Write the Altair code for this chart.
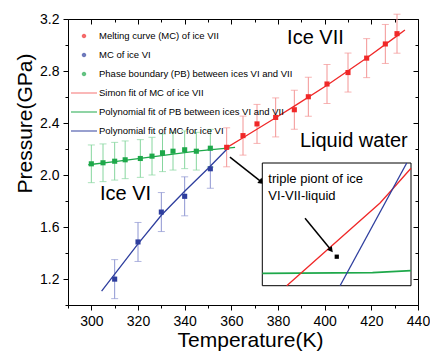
import altair as alt
import pandas as pd

FONT = "Liberation Sans"
RED = "#f02828"
BLUE = "#2e3e9e"
GREEN = "#1ea84a"
RED_L = "#f39494"
BLUE_L = "#8e96d2"
GREEN_L = "#86d69e"

# ---------------- data ----------------
red_T = [358, 365, 371, 379, 387, 393, 401, 410, 418, 426, 431]
red_P = [2.213, 2.303, 2.393, 2.443, 2.502, 2.602, 2.700, 2.788, 2.899, 3.008, 3.087]
red_err = 0.15

blue_T = [310, 320, 330, 340, 351]
blue_P = [1.199, 1.485, 1.715, 1.836, 2.048]
blue_err = 0.15

green_T = [300, 305, 310, 314.5, 321, 326, 330.5, 335, 340, 345, 351]
green_P = [2.086, 2.094, 2.106, 2.117, 2.127, 2.145, 2.171, 2.183, 2.194, 2.183, 2.206]
green_err = 0.145

simon_T = [357.5, 365, 379, 387, 401, 418, 431, 434.4]
simon_P = [2.205, 2.287, 2.44, 2.53, 2.69, 2.90, 3.07, 3.115]

polyPB_T = [298.7, 310, 326, 345, 361.6]
polyPB_P = [2.079, 2.103, 2.14, 2.183, 2.213]

polyVI_T = [304.4, 320, 330, 340, 350, 358.7]
polyVI_P = [1.107, 1.47, 1.69, 1.875, 2.05, 2.21]

# inset (zoom near the triple point)
inset_x_domain = [357.23, 359.213]
inset_y_domain = [2.20603, 2.2183]
inset_red_T = [357.556, 358.8, 358.956, 359.213]
inset_red_P = [2.20603, 2.2143, 2.2156, 2.21777]
inset_blue_T = [358.267, 359.156]
inset_blue_P = [2.20603, 2.2183]
inset_green_T = [357.23, 358.7, 359.213]
inset_green_P = [2.20727, 2.20733, 2.20753]
triple_T = [358.223]
triple_P = [2.20893]

legend_labels = [
    "Melting curve (MC) of ice VII",
    "MC of ice VI",
    "Phase boundary (PB) between ices VI and VII",
    "Simon fit of MC of ice VII",
    "Polynomial fit of PB between ices VI and VII",
    "Polynomial fit of MC for ice VI",
]
legend_colors = [RED, BLUE, GREEN, "#f57070", GREEN, BLUE]
DOT = ("M-0.12,0A0.12,0.12,0,1,0,0.12,0A0.12,0.12,0,1,0,-0.12,0Z"
       "M-0.04,0A0.04,0.04,0,1,0,0.04,0A0.04,0.04,0,1,0,-0.04,0Z")
LINE = "M-1,0L1,0"
legend_shapes = [DOT, DOT, DOT, LINE, LINE, LINE]

x_ticks = list(range(290, 441, 10))
x_major = list(range(300, 441, 20))
x_minor = list(range(290, 431, 20))
y_ticks = [1.0, 1.2, 1.4, 1.6, 1.8, 2.0, 2.2, 2.4, 2.6, 2.8, 3.0, 3.2]
y_major = [1.2, 1.6, 2.0, 2.4, 2.8, 3.2]
y_minor = [1.0, 1.4, 1.8, 2.2, 2.6, 3.0]

ann_text = ["Ice VII", "Liquid water", "Ice VI"]
ann_T = [383.9, 389.4, 303.7]
ann_P = [3.011, 2.213, 1.805]

main_arrow_T = [359.4, 373.0]
main_arrow_P = [2.137, 1.945]
inset_arrow_T = [357.8, 358.147]
inset_arrow_P = [2.21277, 2.2096]
inset_text = ["triple piont of ice", "VI-VII-liquid"]
inset_text_T = [357.311, 357.311]
inset_text_P = [2.2163, 2.2146]
inset_x_ticks = [357.5, 358, 358.5, 359]
inset_y_ticks = [2.21]


def pts(T, P, err):
    return pd.DataFrame({"T": T, "P": P,
                         "lo": [p - err for p in P],
                         "hi": [p + err for p in P]})


red_df = pts(red_T, red_P, red_err)
blue_df = pts(blue_T, blue_P, blue_err)
green_df = pts(green_T, green_P, green_err)

xs = alt.Scale(domain=[290, 440], nice=False, zero=False)
ys = alt.Scale(domain=[1.0, 3.2], nice=False, zero=False)


def X(f="T", axis=None):
    return alt.X(f + ":Q", scale=xs, axis=axis)


def Y(f="P", axis=None):
    return alt.Y(f + ":Q", scale=ys, axis=axis)


common_ax = dict(grid=False, domain=False, tickColor="black", tickWidth=1,
                 labelColor="black", labelFont=FONT, labelFontSize=14,
                 labelFlush=False, labelOverlap=False,
                 titleFont=FONT, titleColor="black", titleFontWeight="normal",
                 titleFontSize=21)

ax_bottom = alt.Axis(orient="bottom", values=x_ticks,
                     tickSize={"condition": {"test": "datum.value % 20 === 0", "value": 5}, "value": 3},
                     labelExpr="datum.value % 20 === 0 ? datum.label : ''",
                     labelPadding=4, title="Temperature(K)",
                     titleX=182, titleY=41, titleBaseline="alphabetic", **common_ax)
ax_left = alt.Axis(orient="left", values=y_ticks,
                   tickSize={"condition": {"test": "round(datum.value*10) % 4 === 0", "value": 5}, "value": 3},
                   labelExpr="round(datum.value*10) % 4 === 0 ? format(datum.value, '.1f') : ''",
                   labelPadding=4, title="Pressure(GPa)",
                   titleX=-37, titleY=104, titleBaseline="alphabetic", titleAlign="center",
                   **common_ax)

mirror = dict(grid=False, domain=False, labels=False, tickColor="black", tickWidth=1, title=None)
ax_top_major = alt.Axis(orient="top", values=x_major, tickSize=5, offset=-5, **mirror)
ax_top_minor = alt.Axis(orient="top", values=x_minor, tickSize=3, offset=-3, **mirror)
ax_right_major = alt.Axis(orient="right", values=y_major, tickSize=5, offset=-5, **mirror)
ax_right_minor = alt.Axis(orient="right", values=y_minor, tickSize=3, offset=-3, **mirror)

axes1 = alt.Chart(green_df).mark_point(opacity=0).encode(x=X(axis=ax_bottom), y=Y(axis=ax_left))
axes2 = alt.Chart(green_df).mark_point(opacity=0).encode(x=X(axis=ax_top_major), y=Y(axis=ax_right_major))
axes3 = alt.Chart(green_df).mark_point(opacity=0).encode(x=X(axis=ax_top_minor), y=Y(axis=ax_right_minor))


def errbars(df, color):
    rule = alt.Chart(df).mark_rule(color=color, strokeWidth=1).encode(x=X(), y=Y("lo"), y2="hi:Q")
    cap_lo = alt.Chart(df).mark_tick(color=color, orient="horizontal", size=7, thickness=1).encode(x=X(), y=Y("lo"))
    cap_hi = alt.Chart(df).mark_tick(color=color, orient="horizontal", size=7, thickness=1).encode(x=X(), y=Y("hi"))
    return [rule, cap_lo, cap_hi]


def fitline(T, P, color):
    return alt.Chart(pd.DataFrame({"T": T, "P": P})).mark_line(color=color, strokeWidth=1.3).encode(
        x=X(), y=Y(), order=alt.Order("T:Q"))


def points(df, color):
    return alt.Chart(df).mark_square(color=color, size=26, opacity=1).encode(x=X(), y=Y())


legend_df = pd.DataFrame({"series": legend_labels})
leg = alt.Legend(orient="none", legendX=2, legendY=3, title=None, direction="vertical", columns=1,
                 labelFont=FONT, labelFontSize=9.5, labelColor="black", labelOffset=1, labelLimit=0,
                 symbolSize=676, symbolStrokeWidth=1.4, rowPadding=-12, padding=0)
legend_layer = alt.Chart(legend_df).transform_filter("false").mark_point(filled=False).encode(
    color=alt.Color("series:N", scale=alt.Scale(domain=legend_labels, range=legend_colors), legend=leg),
    shape=alt.Shape("series:N", scale=alt.Scale(domain=legend_labels, range=legend_shapes), legend=leg),
)

ann_df = pd.DataFrame({"T": ann_T, "P": ann_P, "text": ann_text})
ann = alt.Chart(ann_df).mark_text(font=FONT, fontSize=20, align="left", baseline="alphabetic",
                                  color="black").encode(x=X(), y=Y(), text="text:N")

arrow_df = pd.DataFrame({"T": main_arrow_T, "P": main_arrow_P})
arrow_line = alt.Chart(arrow_df).mark_line(color="black", strokeWidth=1.5).encode(x=X(), y=Y())
arrow_head = alt.Chart(arrow_df.tail(1)).mark_point(shape="triangle-right", filled=True, size=45,
                                                    angle=38, color="black", opacity=1).encode(x=X(), y=Y())

main_layers = [axes1, axes2, axes3]
main_layers += errbars(green_df, GREEN_L) + errbars(blue_df, BLUE_L) + errbars(red_df, RED_L)
main_layers += [fitline(polyPB_T, polyPB_P, GREEN), fitline(polyVI_T, polyVI_P, BLUE),
                fitline(simon_T, simon_P, RED)]
main_layers += [points(green_df, GREEN), points(blue_df, BLUE), points(red_df, RED)]
main_layers += [ann, arrow_line, arrow_head, legend_layer]
main = alt.layer(*main_layers).resolve_axis(x="independent", y="independent")

# ---------------- inset ----------------
ixs = alt.Scale(domain=inset_x_domain, range=[194.3, 343], nice=False, zero=False)
iys = alt.Scale(domain=inset_y_domain, range=[266.7, 144], nice=False, zero=False)


def IX(f="T", axis=None):
    return alt.X(f + ":Q", scale=ixs, axis=axis)


def IY(f="P", axis=None):
    return alt.Y(f + ":Q", scale=iys, axis=axis)


iax_x = alt.Axis(orient="bottom", offset=-19.3, values=inset_x_ticks, tickSize=3, labelPadding=3,
                 labelExpr="datum.value % 1 === 0 ? format(datum.value, 'd') : ''",
                 grid=False, domain=False, tickColor="black", labelColor="black", labelFont=FONT,
                 labelFontSize=11, labelFlush=False, labelOverlap=False, title=None)
iax_y = alt.Axis(orient="left", offset=-194.3, values=inset_y_ticks, tickSize=3, labelPadding=2,
                 format=".2f", grid=False, domain=False, tickColor="black", labelColor="black",
                 labelFont=FONT, labelFontSize=11, labelFlush=False, labelOverlap=False, title=None)

frame_df = pd.DataFrame({"x0": [inset_x_domain[0]], "x1": [inset_x_domain[1]],
                         "y0": [inset_y_domain[0]], "y1": [inset_y_domain[1]]})
frame = alt.Chart(frame_df).mark_rect(fill="white", stroke="black", strokeWidth=1).encode(
    x=IX("x0", axis=iax_x), x2="x1:Q", y=IY("y0", axis=iax_y), y2="y1:Q")


def iline(T, P, color, w=1.3):
    return alt.Chart(pd.DataFrame({"T": T, "P": P})).mark_line(color=color, strokeWidth=w).encode(
        x=IX(), y=IY(), order=alt.Order("T:Q"))


isq = alt.Chart(pd.DataFrame({"T": triple_T, "P": triple_P})).mark_square(
    color="black", size=18, opacity=1).encode(x=IX(), y=IY())
iarrow_df = pd.DataFrame({"T": inset_arrow_T, "P": inset_arrow_P})
iarrow = alt.Chart(iarrow_df).mark_line(color="black", strokeWidth=1.5).encode(x=IX(), y=IY())
iarrow_head = alt.Chart(iarrow_df.tail(1)).mark_point(shape="triangle-right", filled=True, size=40,
                                                      angle=51, color="black", opacity=1).encode(x=IX(), y=IY())
itext = alt.Chart(pd.DataFrame({"T": inset_text_T, "P": inset_text_P, "text": inset_text})).mark_text(
    font=FONT, fontSize=13, align="left", baseline="alphabetic", color="black").encode(
    x=IX(), y=IY(), text="text:N")

inset = alt.layer(frame, iline(inset_green_T, inset_green_P, GREEN, 1.8),
                  iline(inset_red_T, inset_red_P, RED), iline(inset_blue_T, inset_blue_P, BLUE),
                  isq, iarrow, iarrow_head, itext)

chart = alt.layer(main, inset).resolve_scale(x="independent", y="independent").properties(
    width=350, height=286,
    padding={"left": 68, "top": 19, "right": 12, "bottom": 46},
    autosize=alt.AutoSizeParams(type="none"),
    background="white",
).configure_view(stroke="black", strokeWidth=1)

chart.save("out.html", embed_options={"renderer": "svg", "actions": False})
